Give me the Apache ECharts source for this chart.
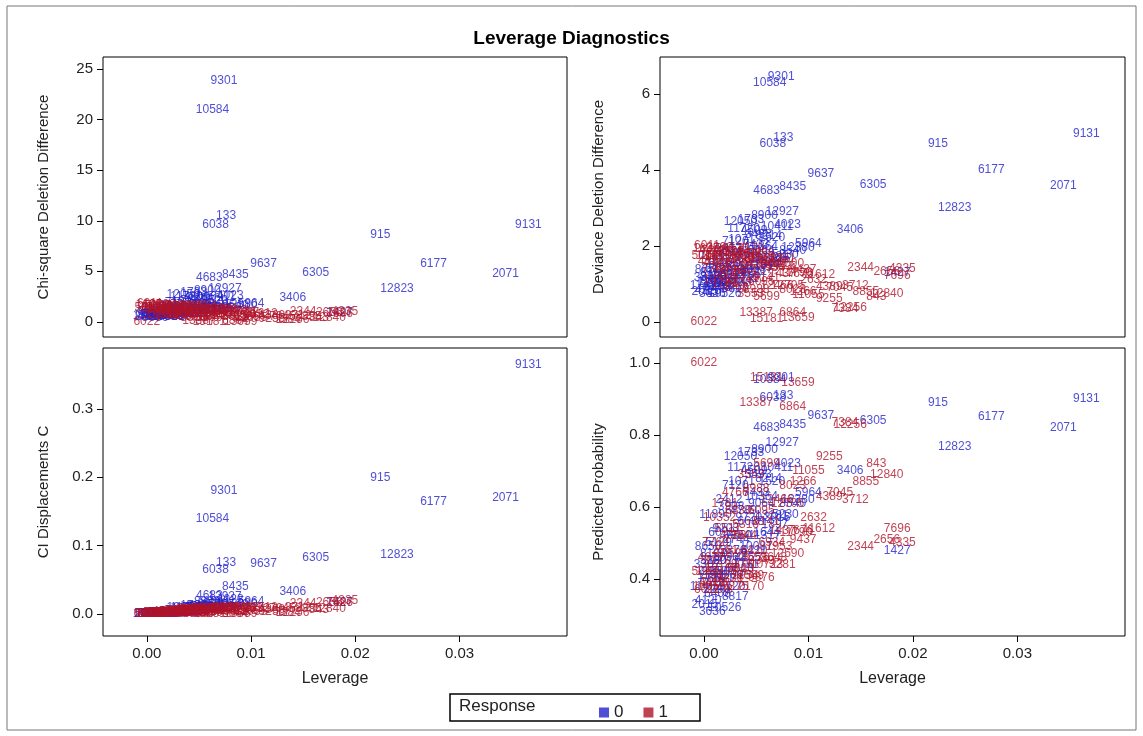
<!DOCTYPE html>
<html><head><meta charset="utf-8">
<script src="https://cdn.jsdelivr.net/npm/echarts@6/dist/echarts.min.js"></script>
<style>html,body{margin:0;padding:0;background:#fff}#c{width:1143px;height:736px}</style>
</head><body><div id="c"></div>
<script>
// rows: [id, leverage, chiSquareDiff, devianceDiff, ciDisplacementC, predictedProb]
const blueObs = [
[3636,.0008,.45,.74,.0004,.31],[10526,.0020,.47,.76,.0009,.32],[4120,.0004,.52,.84,.0002,.34],
[8817,.0030,.55,.87,.0017,.35],[2290,.0012,.60,.93,.0007,.37],[11402,.0002,.63,.97,.0001,.38],
[5571,.0016,.66,1.01,.0011,.40],[7734,.0007,.68,1.03,.0005,.40],[1209,.0025,.70,1.05,.0018,.41],
[9958,.0010,.74,1.10,.0007,.42],[6613,.0035,.76,1.12,.0027,.43],[3307,.0003,.80,1.17,.0002,.44],
[12011,.0018,.84,1.22,.0015,.45],[4455,.0042,.86,1.24,.0036,.46],[8102,.0009,.90,1.29,.0008,.47],
[2876,.0028,.95,1.34,.0027,.48],[10087,.0050,.98,1.37,.0049,.49],[5129,.0014,1.02,1.41,.0014,.50],
[7350,.0033,1.08,1.46,.0036,.52],[1644,.0060,1.12,1.50,.0067,.53],[9203,.0021,1.18,1.56,.0025,.54],
[6688,.0045,1.25,1.63,.0056,.56],[3015,.0070,1.30,1.67,.0091,.57],[11890,.0011,1.38,1.74,.0015,.58],
[4789,.0038,1.46,1.80,.0055,.59],[8540,.0085,1.55,1.87,.0132,.61],[2412,.0024,1.62,1.93,.0039,.62],
[10364,.0055,1.70,1.98,.0094,.63],[5964,.0100,1.80,2.05,.0180,.64],[7120,.0030,1.90,2.12,.0057,.66],
[1520,.0065,2.05,2.22,.0133,.67],[13181,.0065,1.35,1.71,.0088,.575],[9064,.0055,1.55,1.88,.0085,.61],
[3493,.0052,2.20,2.30,.0114,.69],[11720,.0038,2.45,2.47,.0093,.71],[4023,.0080,2.60,2.55,.0208,.72],
[3406,.0140,2.35,2.42,.0329,.70],[12927,.0075,3.3,2.90,.0248,.78],[4683,.0060,4.4,3.45,.0264,.82],
[8435,.0085,4.7,3.55,.040,.83],[1733,.0045,2.9,2.70,.013,.75],[8900,.0058,3.1,2.80,.018,.76],
[12050,.0035,2.7,2.65,.0095,.74],[1427,.0185,.92,1.31,.017,.48],
[2015,.0001,.50,.80,.0001,.33],[6408,.0013,.58,.90,.0008,.36],[9120,.0027,.62,.96,.0017,.38],
[1190,.0006,.70,1.06,.0004,.41],[5505,.0019,.72,1.08,.0014,.42],[7781,.0040,.78,1.14,.0031,.44],
[3380,.0009,.82,1.19,.0007,.45],[10902,.0024,.88,1.26,.0021,.46],[4211,.0048,.93,1.32,.0045,.48],
[8650,.0004,.97,1.37,.0004,.49],[2744,.0031,1.04,1.43,.0032,.51],[11317,.0058,1.10,1.48,.0064,.52],
[6092,.0017,1.16,1.54,.0020,.53],[1897,.0068,1.22,1.60,.0083,.55],[9720,.0043,1.33,1.69,.0057,.57],
[5230,.0078,1.42,1.77,.0111,.58],[3908,.0026,1.52,1.85,.0040,.60],[12380,.0090,1.66,1.95,.0149,.62],
[7433,.0050,1.78,2.03,.0089,.64],[1071,.0036,2.00,2.18,.0072,.67],[8214,.0062,2.15,2.28,.0133,.68],
[4509,.0048,2.35,2.40,.0113,.70],[10411,.0070,2.50,2.50,.0175,.71],
[9301,.0074,23.9,6.45,.18,.96],[10584,.0063,21.0,6.30,.14,.955],[133,.0076,10.5,4.85,.075,.91],
[6038,.0066,9.6,4.70,.065,.905],[915,.0224,8.6,4.70,.20,.89],[9131,.0366,9.6,4.95,.365,.90],
[6177,.0275,5.8,4.00,.165,.85],[2071,.0344,4.8,3.60,.17,.82],[12823,.0240,3.3,3.00,.087,.767],
[6305,.0162,4.9,3.62,.082,.84],[9637,.0112,5.8,3.90,.073,.855]
];
const redObs = [
[6011,.0003,1.75,2.0,.0005,.37],[2208,.0015,1.70,1.97,.0026,.37],[9875,.0030,1.62,1.92,.0049,.38],
[4412,.0008,1.55,1.87,.0012,.39],[11236,.0022,1.48,1.82,.0033,.40],[7569,.0045,1.42,1.78,.0064,.41],
[1388,.0005,1.36,1.74,.0007,.42],[5840,.0035,1.30,1.70,.0046,.43],[10723,.0060,1.25,1.66,.0075,.44],
[3127,.0012,1.20,1.62,.0014,.45],[8276,.0050,1.15,1.58,.0058,.46],[12590,.0080,1.10,1.54,.0088,.47],
[2561,.0020,1.05,1.48,.0021,.48],[6934,.0065,1.00,1.42,.0065,.50],[9437,.0095,.95,1.37,.0090,.51],
[4058,.0028,.90,1.32,.0025,.52],[11612,.0110,.85,1.26,.0094,.54],[1437,.0075,.88,1.28,.0066,.535],
[7676,.0092,.86,1.27,.0079,.535],[5316,.0040,.80,1.20,.0032,.55],[8648,.0067,1.17,1.55,.0078,.46],
[3281,.0075,1.28,1.66,.0096,.44],[9876,.0055,1.45,1.80,.0080,.405],[2170,.0045,1.62,1.92,.0073,.38],
[10352,.0015,.75,1.12,.0011,.57],[6095,.0055,.70,1.06,.0039,.59],[1781,.0020,.64,1.00,.0013,.61],
[12466,.0070,.60,.95,.0042,.62],[4766,.0030,.56,.90,.0017,.64],[8023,.0085,.50,.85,.0043,.66],
[3553,.0045,.45,.76,.0020,.69],[11055,.0100,.42,.72,.0042,.70],[5699,.0060,.38,.66,.0023,.72],
[1605,.0002,1.65,1.94,.0003,.38],[7208,.0010,1.58,1.89,.0016,.39],[3371,.0025,1.50,1.84,.0038,.40],
[9954,.0040,1.44,1.79,.0058,.41],[5062,.0001,1.40,1.76,.0001,.42],[12108,.0017,1.33,1.72,.0023,.43],
[2803,.0032,1.27,1.67,.0041,.44],[8349,.0055,1.22,1.63,.0067,.45],[4677,.0007,1.18,1.60,.0008,.46],
[10590,.0026,1.12,1.55,.0029,.47],[6420,.0048,1.08,1.51,.0052,.48],[1953,.0072,1.03,1.46,.0074,.49],
[7760,.0011,.98,1.40,.0011,.50],[3844,.0038,.92,1.34,.0035,.52],[11790,.0088,.88,1.30,.0077,.53],
[5517,.0023,.83,1.24,.0019,.54],[9141,.0060,.78,1.18,.0047,.56],[2632,.0105,.74,1.12,.0078,.57],
[6830,.0033,.68,1.04,.0022,.59],[12705,.0080,.62,.97,.0050,.61],[4389,.0120,.58,.92,.0070,.63],
[8988,.0050,.52,.86,.0026,.65],[1266,.0095,.47,.80,.0045,.67],[7045,.0130,.55,.90,.0072,.64],
[3712,.0145,.60,.95,.0087,.62],
[7696,.0185,.85,1.23,.016,.54],[2656,.0175,.95,1.33,.0166,.51],[2344,.0150,1.05,1.42,.0158,.49],
[843,.0165,.39,.66,.0064,.72],[12256,.0140,.20,.37,.0028,.83],[7384,.0135,.19,.36,.0026,.835],
[13659,.0090,.05,.11,.0005,.947],[15181,.0060,.04,.08,.0002,.96],[13387,.0050,.12,.24,.0006,.89],
[6864,.0085,.13,.26,.0011,.88],[9255,.0120,.35,.61,.0042,.74],[12840,.0175,.45,.75,.0079,.69],
[8855,.0155,.50,.80,.0078,.67],[4335,.0190,1.0,1.4,.019,.50],[6022,.0000,.00,.00,.0000,1.0]
];
const xTicks = [0, 0.01, 0.02, 0.03];
const yTicks = [[0,5,10,15,20,25],[0,2,4,6],[0,0.1,0.2,0.3],[0.4,0.6,0.8,1.0]];
const yNames = ['Chi-square Deletion Difference','Deviance Deletion Difference','CI Displacements C','Predicted Probability'];
const yRange = [[-1.5,26.2],[-0.39,6.97],[-0.032,0.389],[0.242,1.042]];
const yDec = [0,0,1,1];
const BLUE='#2222cc', RED='#b0142a';
const FONT='Liberation Sans';

const grids = [
 {left:103,top:57,width:464,height:280},
 {left:660,top:57,width:465,height:280},
 {left:103,top:348,width:464,height:288},
 {left:660,top:348,width:465,height:288}
].map(g=>Object.assign(g,{show:true,borderColor:'#000',borderWidth:1,backgroundColor:'#fff'}));

const xAxis=[], yAxis=[], series=[];
for(let i=0;i<4;i++){
  const bottom = i>=2;
  xAxis.push({type:'value',gridIndex:i,min:-0.0042,max:0.0403,position:'bottom',
    name:bottom?'Leverage':'',nameLocation:'middle',nameGap:35,
    nameTextStyle:{fontSize:16,color:'#222',fontFamily:FONT},
    splitLine:{show:false},axisLine:{show:false,onZero:false},
    axisTick:{show:bottom,customValues:xTicks,length:6,lineStyle:{color:'#000'}},
    axisLabel:{show:bottom,customValues:xTicks,formatter:v=>v.toFixed(2),fontSize:15,color:'#222',fontFamily:FONT,margin:10}});
  yAxis.push({type:'value',gridIndex:i,min:yRange[i][0],max:yRange[i][1],position:'left',
    name:yNames[i],nameLocation:'middle',nameGap:i%2?54:52,
    nameTextStyle:{fontSize:15,color:'#222',fontFamily:FONT},
    splitLine:{show:false},axisLine:{show:false,onZero:false},
    axisTick:{show:true,customValues:yTicks[i],length:6,lineStyle:{color:'#000'}},
    axisLabel:{customValues:yTicks[i],formatter:v=>v.toFixed(yDec[i]),fontSize:15,color:'#222',fontFamily:FONT,margin:10}});
  [[blueObs,'0',BLUE],[redObs,'1',RED]].forEach(([obs,name,col])=>{
    series.push({type:'scatter',name:name,xAxisIndex:i,yAxisIndex:i,symbol:'rect',symbolSize:0.1,
      itemStyle:{color:col},silent:true,animation:false,
      data:obs.map(r=>[r[1],r[2+i],String(r[0])]),
      label:{show:true,position:'inside',formatter:p=>p.data[2],color:col,fontSize:12,fontFamily:FONT}});
  });
}

const chart = echarts.init(document.getElementById('c'));
chart.setOption({
  animation:false,
  title:{text:'Leverage Diagnostics',left:'center',top:24,textStyle:{fontSize:19,fontWeight:'bold',color:'#000',fontFamily:FONT}},
  grid:grids, xAxis, yAxis, series,
  legend:{data:[{name:'0',itemStyle:{color:BLUE}},{name:'1',itemStyle:{color:RED}}],left:594,top:699,itemWidth:10,itemHeight:10,itemGap:20,icon:'rect',
    textStyle:{fontSize:17,color:'#222',fontFamily:FONT},selectedMode:false},
  graphic:[
    {type:'rect',shape:{x:7,y:6,width:1129,height:724},style:{fill:null,stroke:'#777',lineWidth:1},silent:true},
    {type:'rect',shape:{x:450,y:694,width:250,height:27},style:{fill:null,stroke:'#000',lineWidth:1.5},silent:true},
    {type:'text',left:459,top:698,style:{text:'Response',fontSize:17,fill:'#222',fontFamily:FONT},silent:true}
  ]
});
</script></body></html>
